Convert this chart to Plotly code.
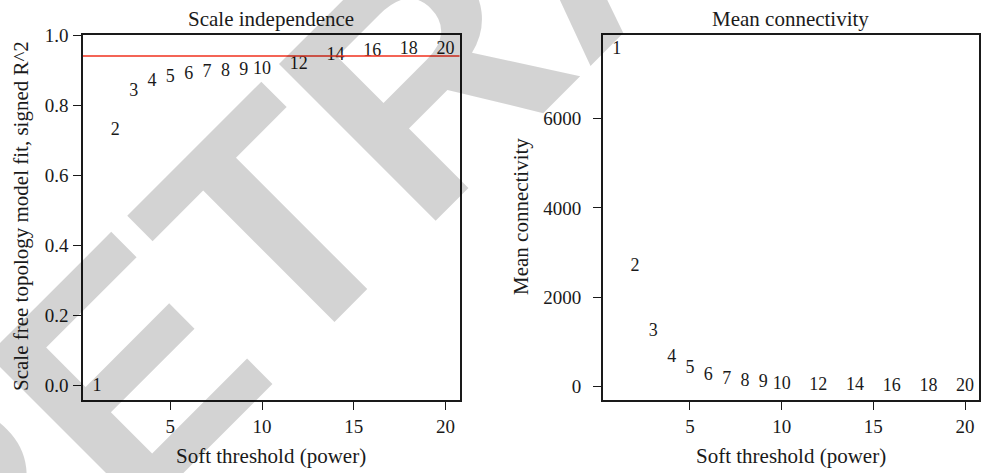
import plotly.graph_objects as go

# ---- data ----
powers = [1, 2, 3, 4, 5, 6, 7, 8, 9, 10, 12, 14, 16, 18, 20]
signed_r2 = [-0.003, 0.727, 0.839, 0.867, 0.880, 0.887, 0.893, 0.896, 0.900, 0.901,
             0.915, 0.941, 0.952, 0.958, 0.960]
mean_k = [7540, 2682, 1229, 648, 411, 246, 170, 112, 85, 60, 38, 22, 14, 9, 5]
r2_cut = 0.94

x_ticks = [5, 10, 15, 20]
y1_ticks = [0.0, 0.2, 0.4, 0.6, 0.8, 1.0]
y1_ticklabels = ["0.0", "0.2", "0.4", "0.6", "0.8", "1.0"]
y2_ticks = [0, 2000, 4000, 6000]

W, H = 981, 473
SERIF = "Liberation Serif"
INK = "#1a1a1a"


def px(v):
    return v / W


def py(v):
    return 1 - v / H


fig = go.Figure()

fig.add_trace(go.Scatter(
    x=powers, y=signed_r2, mode="text", text=[str(p) for p in powers],
    textposition="middle center", textfont=dict(family=SERIF, size=18, color=INK),
    xaxis="x", yaxis="y", showlegend=False, hoverinfo="skip"))

fig.add_trace(go.Scatter(
    x=powers, y=mean_k, mode="text", text=[str(p) for p in powers],
    textposition="middle center", textfont=dict(family=SERIF, size=18, color=INK),
    xaxis="x2", yaxis="y2", showlegend=False, hoverinfo="skip"))

axis_common = dict(
    showgrid=False, zeroline=False, showline=True, mirror=True,
    linecolor=INK, linewidth=1.5, ticks="outside", ticklen=8, tickwidth=1.3,
    tickcolor=INK, tickfont=dict(family=SERIF, size=19, color=INK),
)

fig.update_layout(
    width=W, height=H,
    margin=dict(l=0, r=0, t=0, b=0, autoexpand=False),
    paper_bgcolor="white", plot_bgcolor="rgba(0,0,0,0)",
    xaxis=dict(domain=[px(83), px(459.5)], range=[0.24, 20.76],
               tickvals=x_ticks, anchor="y", ticklabelstandoff=0, **axis_common),
    yaxis=dict(domain=[py(400), py(35)], range=[-0.041, 1.0],
               tickvals=y1_ticks, ticktext=y1_ticklabels, anchor="x",
               ticklabelstandoff=1, **axis_common),
    xaxis2=dict(domain=[px(602.7), px(979)], range=[0.24, 20.76],
                tickvals=x_ticks, anchor="y2", ticklabelstandoff=0, **axis_common),
    yaxis2=dict(domain=[py(400), py(35)], range=[-297, 7866],
                tickvals=y2_ticks, anchor="x2", ticklabelstandoff=8, **axis_common),
    shapes=[dict(type="line", xref="x domain", yref="y", x0=0, x1=1,
                 y0=r2_cut, y1=r2_cut, line=dict(color="#f0301e", width=1.4))],
)


def label(text, x, y, size=21, angle=0):
    return dict(text=text, xref="paper", yref="paper", x=px(x), y=py(y),
                xanchor="center", yanchor="middle", textangle=angle,
                showarrow=False, font=dict(family=SERIF, size=size, color=INK))


annotations = [
    # "RETRACTED" watermark stamped across the figure
    dict(text="RETRACTED", xref="paper", yref="paper", x=px(588), y=py(-90),
         xanchor="center", yanchor="middle", textangle=-45, showarrow=False,
         font=dict(family="Liberation Sans", size=322, weight="bold",
                   color="rgba(0,0,0,0.173)")),
    label("Scale independence", 271, 19),
    label("Mean connectivity", 790.8, 19),
    label("Soft threshold (power)", 271, 456),
    label("Soft threshold (power)", 790.8, 456),
    label("Scale free topology model fit, signed R^2", 21, 216, angle=-90),
    label("Mean connectivity", 521, 217, angle=-90),
]
fig.update_layout(annotations=annotations)

fig.write_html("out.html", post_script="document.body.style.margin='0';",
               config={"displayModeBar": False})
